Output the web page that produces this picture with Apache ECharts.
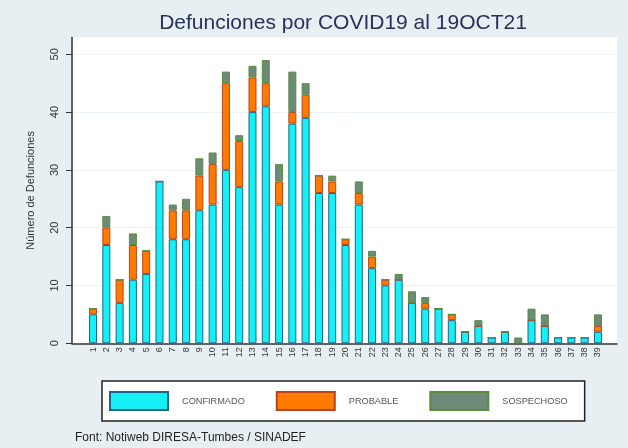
<!DOCTYPE html>
<html>
<head>
<meta charset="utf-8">
<script src="https://cdn.jsdelivr.net/npm/echarts@6/dist/echarts.min.js"></script>
<style>
  html, body { margin: 0; padding: 0; background: #e8eff2; }
  #main { width: 628px; height: 448px; }
</style>
</head>
<body>
<div id="main"></div>
<script>
// data
var dias = [];
for (var i = 1; i <= 39; i++) dias.push(String(i));
var confirmado = [5, 17, 7, 11, 12, 28, 18, 18, 23, 24, 30, 27, 40, 41, 24, 38, 39, 26, 26, 17,
                  24, 13, 10, 11, 7, 6, 6, 4, 2, 3, 1, 2, 0, 4, 3, 1, 1, 1, 2];
var probable   = [1, 3, 4, 6, 4, 0, 5, 5, 6, 7, 15, 8, 6, 4, 4, 2, 4, 3, 2, 1,
                  2, 2, 1, 0, 0, 1, 0, 1, 0, 0, 0, 0, 0, 0, 0, 0, 0, 0, 1];
var sospechoso = [0, 2, 0, 2, 0, 0, 1, 2, 3, 2, 2, 1, 2, 4, 3, 7, 2, 0, 1, 0,
                  2, 1, 0, 1, 2, 1, 0, 0, 0, 1, 0, 0, 1, 2, 2, 0, 0, 0, 2];
var yTicks = [0, 10, 20, 30, 40, 50];
var yMax = 52.9;

var font = 'Liberation Sans, Arial, sans-serif';
var myChart = echarts.init(document.getElementById('main'));

function barSerie(name, data, color, border) {
    return {
        name: name,
        type: 'bar',
        stack: 'total',
        xAxisIndex: 1,
        yAxisIndex: 1,
        barWidth: 8,
        itemStyle: { color: color, borderColor: border, borderWidth: 1 },
        data: data
    };
}

var option = {
    backgroundColor: '#e8eff2',
    animation: false,
    title: [{
        text: 'Defunciones por COVID19 al 19OCT21',
        left: 338,
        textAlign: 'center',
        top: 8,
        textStyle: { fontFamily: font, fontSize: 21, fontWeight: 'normal', color: '#27325a' }
    }, {
        text: 'Font: Notiweb DIRESA-Tumbes / SINADEF',
        left: 70,
        top: 427,
        textStyle: { fontFamily: font, fontSize: 12, fontWeight: 'normal', color: '#222' }
    }],
    legend: {
        left: 102,
        top: 381,
        padding: [10, 17, 10, 7],
        borderColor: '#222',
        borderWidth: 1.5,
        backgroundColor: '#fff',
        itemWidth: 58,
        itemHeight: 18,
        itemGap: 31,
        icon: 'rect',
        textStyle: { fontFamily: font, fontSize: 9.2, color: '#555', padding: [0, 0, 0, 9] },
        data: ['CONFIRMADO', 'PROBABLE', 'SOSPECHOSO']
    },
    grid: [
        { left: 72, right: 11, top: 37.5, bottom: 104.7, show: true, backgroundColor: '#fff', borderWidth: 0 },
        { left: 86.4, right: 23.4, top: 37.5, bottom: 104.7 }
    ],
    xAxis: [{
        gridIndex: 0,
        type: 'value',
        min: 0, max: 1,
        axisLine: { show: true, onZero: false, lineStyle: { color: '#333', width: 1.5 } },
        axisTick: { show: false },
        axisLabel: { show: false },
        splitLine: { show: false }
    }, {
        gridIndex: 1,
        type: 'category',
        data: dias,
        axisLine: { show: false },
        axisTick: { show: false },
        axisLabel: {
            interval: 0, rotate: 90, margin: 4,
            fontFamily: font, fontSize: 9, color: '#333'
        }
    }],
    yAxis: [{
        gridIndex: 0,
        type: 'value',
        min: 0, max: yMax,
        name: 'Número de Defunciones',
        nameLocation: 'middle',
        nameGap: 36,
        nameTextStyle: { fontFamily: font, fontSize: 11, color: '#333' },
        axisLine: { show: true, lineStyle: { color: '#333', width: 1.5 } },
        axisTick: { show: true, length: 6, customValues: yTicks, lineStyle: { color: '#333' } },
        axisLabel: {
            customValues: yTicks, rotate: 90, margin: 12,
            fontFamily: font, fontSize: 11, color: '#333'
        },
        splitLine: { show: true, lineStyle: { color: '#eef3f4', width: 1 } }
    }, {
        gridIndex: 1,
        type: 'value',
        min: 0, max: yMax,
        show: false,
        splitLine: { show: false }
    }],
    series: [
        barSerie('CONFIRMADO', confirmado, '#14f0f4', '#1d6488'),
        barSerie('PROBABLE', probable, '#ff7a00', '#b8461c'),
        barSerie('SOSPECHOSO', sospechoso, '#6c8a78', '#5a8c3c')
    ]
};
myChart.setOption(option);
</script>
</body>
</html>
